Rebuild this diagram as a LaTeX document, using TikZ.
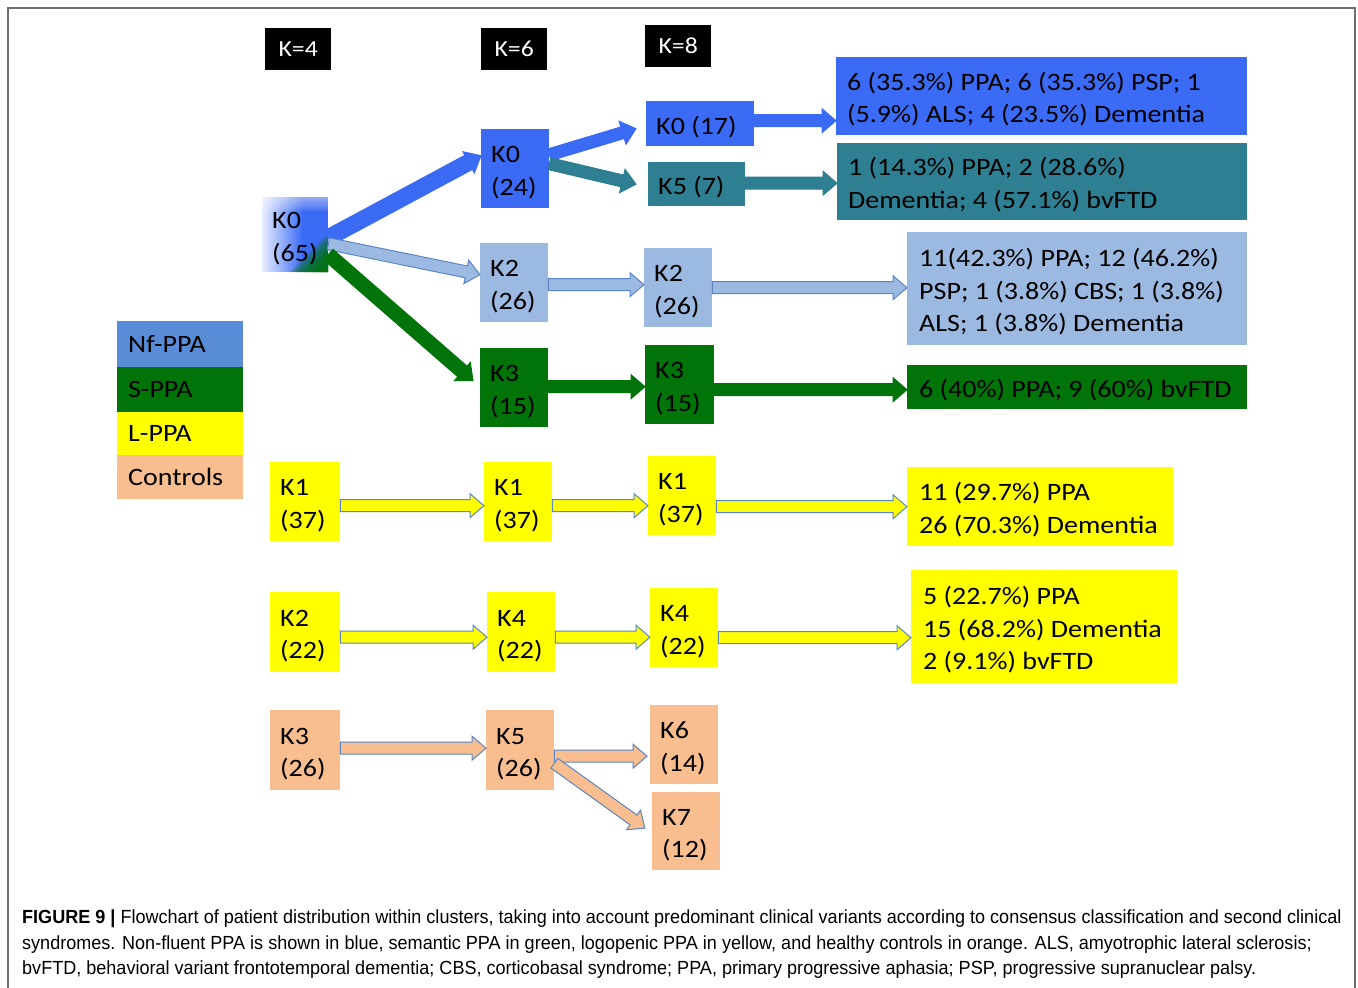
\documentclass[tikz,border=0pt]{standalone}
\usepackage{fontspec}
\setmainfont{Carlito}[FakeStretch=1.12]
\newfontfamily\capfont[FakeStretch=0.95]{Liberation Sans}
\usetikzlibrary{calc}
\definecolor{kblue}{RGB}{59,107,245}
\definecolor{kteal}{RGB}{47,127,146}
\definecolor{klblue}{RGB}{155,185,225}
\definecolor{kgreen}{RGB}{0,116,8}
\definecolor{kyellow}{RGB}{255,255,0}
\definecolor{kpeach}{RGB}{248,190,143}
\definecolor{legblue}{RGB}{88,140,214}
\definecolor{aline}{RGB}{90,134,197}
\definecolor{framegray}{RGB}{110,110,110}
\tikzset{
  box/.style={anchor=north west, inner xsep=10pt, inner ysep=0pt, align=flush left,
    font=\fontsize{25}{32.5}\selectfont,
    execute at begin node={\rule{0pt}{27pt}},
    execute at end node={\rule[-6pt]{0pt}{6pt}}},
  hdr/.style={anchor=north west, fill=black, text=white, inner sep=0pt,
    minimum width=66pt, minimum height=42pt, font=\fontsize{23}{28}\selectfont},
  legbox/.style={anchor=north west, inner xsep=11pt, inner ysep=0pt, align=flush left,
    minimum width=126pt, text width=104pt, font=\fontsize{25}{30}\selectfont}
}
\newcommand\blockarr[5]{%
  \path let \p1=#3, \p2=#4, \n1={atan2(\y2-\y1,\x2-\x1)}, \n2={veclen(\x2-\x1,\y2-\y1)} in
    \pgfextra{\xdef\baang{\n1}\xdef\balen{\n2}\xdef\bax{\x1}\xdef\bay{\y1}};
  \begin{scope}[shift={(\bax,\bay)}, rotate=\baang]
    \filldraw[fill=#1, draw=#2, line width=1pt, line join=miter]
      (0,-#5) -- ({\balen-14},-#5) -- ({\balen-14},-12) -- (\balen,0)
      -- ({\balen-14},12) -- ({\balen-14},#5) -- (0,#5) -- cycle;
  \end{scope}}
\begin{document}
\begin{tikzpicture}[x=1pt,y=-1pt]
\useasboundingbox (0,0) rectangle (1358,988);
\fill[white] (0,0) rectangle (1358,988);
\draw[framegray, line width=2pt] (8,988) -- (8,8) -- (1355,8) -- (1355,988);

% headers
\node[hdr] (h4) at (265,28) {K=4};
\node[hdr] (h6) at (481,28) {K=6};
\node[hdr] (h8) at (645,25) {K=8};

% column 1
\node[box, fill=kblue, minimum height=75pt, text width=46pt,
  path picture={
    \foreach \i in {0,...,20} {
      \pgfmathsetmacro\pc{12+88*\i/20}
      \fill[kblue!\pc!white] ($(path picture bounding box.north west)+(2*\i,0)$)
        rectangle ($(path picture bounding box.south west)+(2*\i+2.4,0)$);
    }
    \foreach \j in {1,...,7}
      \fill[white, opacity=0.08] (path picture bounding box.north west)
        rectangle ($(path picture bounding box.north east)+(0,2*\j)$);
    \foreach \j in {1,...,15}
      \fill[kgreen, opacity=0.2] (path picture bounding box.south east)
        -- ($(path picture bounding box.south east)+(-2.6*\j,0)$)
        -- ($(path picture bounding box.south east)+(0,-2.6*\j)$) -- cycle;
  }] (k65) at (262,197) {K0\\(65)};
\node[box, fill=kyellow, minimum height=79pt, text width=50pt] (k1a) at (270,462) {K1\\(37)};
\node[box, fill=kyellow, minimum height=80pt, text width=50pt] (k2a) at (270,592) {K2\\(22)};
\node[box, fill=kpeach, minimum height=80pt, text width=50pt] (k3a) at (270,710) {K3\\(26)};

% column 2
\node[box, fill=kblue, minimum height=79pt, text width=48pt] (k0b) at (481,129) {K0\\(24)};
\node[box, fill=klblue, minimum height=79pt, text width=48pt] (k2b) at (480,243) {K2\\(26)};
\node[box, fill=kgreen, minimum height=79pt, text width=48pt] (k3b) at (480,348) {K3\\(15)};
\node[box, fill=kyellow, minimum height=79pt, text width=48pt] (k1b) at (484,462) {K1\\(37)};
\node[box, fill=kyellow, minimum height=80pt, text width=48pt] (k4b) at (487,592) {K4\\(22)};
\node[box, fill=kpeach, minimum height=80pt, text width=48pt] (k5b) at (486,710) {K5\\(26)};

% column 3
\node[box, fill=kblue, minimum height=45pt, text width=88pt] (k0c) at (646,101) {K0 (17)};
\node[box, fill=kteal, minimum height=44pt, text width=77pt] (k5c) at (648,162) {K5 (7)};
\node[box, fill=klblue, minimum height=79pt, text width=48pt] (k2c) at (644,248) {K2\\(26)};
\node[box, fill=kgreen, minimum height=79pt, text width=49pt] (k3c) at (645,345) {K3\\(15)};
\node[box, fill=kyellow, minimum height=79pt, text width=48pt] (k1c) at (648,456) {K1\\(37)};
\node[box, fill=kyellow, minimum height=79pt, text width=48pt] (k4c) at (650,588) {K4\\(22)};
\node[box, fill=kpeach, minimum height=79pt, text width=48pt] (k6c) at (650,705) {K6\\(14)};
\node[box, fill=kpeach, minimum height=78pt, text width=48pt] (k7c) at (652,792) {K7\\(12)};

% results
\node[box, fill=kblue, minimum height=78pt, text width=389pt, inner xsep=11pt] (r0) at (836,57)
  {\mbox{6 (35.3\%) PPA; 6 (35.3\%) PSP; 1}\\\mbox{(5.9\%) ALS; 4 (23.5\%) Dementia}};
\node[box, fill=kteal, minimum height=77pt, text width=388pt, inner xsep=11pt] (r5) at (837,143)
  {\mbox{1 (14.3\%) PPA; 2 (28.6\%)}\\\mbox{Dementia; 4 (57.1\%) bvFTD}};
\node[box, fill=klblue, minimum height=113pt, text width=316pt, inner xsep=12pt] (r2) at (907,232)
  {\mbox{11(42.3\%) PPA; 12 (46.2\%)}\\\mbox{PSP; 1 (3.8\%) CBS; 1 (3.8\%)}\\\mbox{ALS; 1 (3.8\%) Dementia}};
\node[box, fill=kgreen, minimum height=44pt, text width=316pt, inner xsep=12pt] (r3) at (907,365)
  {\mbox{6 (40\%) PPA; 9 (60\%) bvFTD}};
\node[box, fill=kyellow, minimum height=79pt, text width=242pt, inner xsep=12pt] (r1) at (907,467)
  {\mbox{11 (29.7\%) PPA}\\\mbox{26 (70.3\%) Dementia}};
\node[box, fill=kyellow, minimum height=113pt, text width=242pt, inner xsep=12pt] (r4) at (911,570)
  {\mbox{5 (22.7\%) PPA}\\\mbox{15 (68.2\%) Dementia}\\\mbox{2 (9.1\%) bvFTD}};

% legend
\node[legbox, fill=legblue, minimum height=46pt] (l1) at (117,321) {Nf-PPA};
\node[legbox, fill=kgreen, minimum height=45pt] (l2) at (117,367) {S-PPA};
\node[legbox, fill=kyellow, minimum height=43pt] (l3) at (117,412) {L-PPA};
\node[legbox, fill=kpeach, minimum height=44pt] (l4) at (117,455) {Controls};

% arrow end points
\coordinate (a6s) at ($(k0c.east)+(0,-3)$);
\coordinate (a7s) at ($(k5c.east)+(0,-1)$);
\coordinate (a8s) at ($(k2b.east)+(0,2)$);
\coordinate (a9s) at ($(k2c.east)+(0,0)$);
\coordinate (a10s) at ($(k3b.east)+(0,-1)$);
\coordinate (a11s) at ($(k3c.east)+(0,5)$);
\coordinate (a12s) at ($(k1a.east)+(0,4)$);
\coordinate (a13s) at ($(k1b.east)+(0,4)$);
\coordinate (a14s) at ($(k1c.east)+(0,11)$);
\coordinate (a15s) at ($(k2a.east)+(0,5)$);
\coordinate (a16s) at ($(k4b.east)+(0,5)$);
\coordinate (a17s) at ($(k4c.east)+(0,10)$);
\coordinate (a18s) at ($(k3a.east)+(0,-2)$);
\coordinate (a19s) at ($(k5b.east)+(0,6)$);

% arrows
\blockarr{kblue}{kblue}{($(k65.east)+(0,3)$)}{($(k0b.west)+(0,-13)$)}{8}
\blockarr{klblue}{aline}{($(k65.east)+(0,9)$)}{($(k2b.west)+(0,-8)$)}{6}
\blockarr{kgreen}{kgreen}{($(k65.east)+(0,20)$)}{($(k3b.west)+(-7,-7)$)}{7}
\blockarr{kblue}{kblue}{($(k0b.east)+(0,-14)$)}{($(k0c.west)+(-10,5)$)}{6}
\blockarr{kteal}{kteal}{($(k0b.east)+(0,-5)$)}{($(k5c.west)+(-12,0)$)}{6}
\blockarr{kblue}{kblue}{(a6s)}{(r0.west |- a6s)}{6}
\blockarr{kteal}{kteal}{(a7s)}{(r5.west |- a7s)}{6}
\blockarr{klblue}{aline}{(a8s)}{(k2c.west |- a8s)}{6}
\blockarr{klblue}{aline}{(a9s)}{(r2.west |- a9s)}{6}
\blockarr{kgreen}{kgreen}{(a10s)}{(k3c.west |- a10s)}{6}
\blockarr{kgreen}{kgreen}{(a11s)}{(r3.west |- a11s)}{6}
\blockarr{kyellow}{aline}{(a12s)}{(k1b.west |- a12s)}{6}
\blockarr{kyellow}{aline}{(a13s)}{(k1c.west |- a13s)}{6}
\blockarr{kyellow}{aline}{(a14s)}{(r1.west |- a14s)}{6}
\blockarr{kyellow}{aline}{(a15s)}{(k4b.west |- a15s)}{6}
\blockarr{kyellow}{aline}{(a16s)}{(k4c.west |- a16s)}{6}
\blockarr{kyellow}{aline}{(a17s)}{(r4.west |- a17s)}{6}
\blockarr{kpeach}{aline}{(a18s)}{(k5b.west |- a18s)}{6}
\blockarr{kpeach}{aline}{(a19s)}{($(k6c.west |- a19s)+(-3,0)$)}{6}
\blockarr{kpeach}{aline}{($(k5b.east)+(0,13)$)}{($(k7c.west)+(-7,-3)$)}{6}

% caption
\node[anchor=north west, align=flush left, inner sep=0pt, font=\capfont\fontsize{19}{25.5}\selectfont] (cap) at (22,910)
  {{\bfseries FIGURE 9 \textbar} Flowchart of patient distribution within clusters, taking into account predominant clinical variants according to consensus classification and second clinical\\
  syndromes. Non-fluent PPA is shown in blue, semantic PPA in green, logopenic PPA in yellow, and healthy controls in orange. ALS, amyotrophic lateral sclerosis;\\
  bvFTD, behavioral variant frontotemporal dementia; CBS, corticobasal syndrome; PPA, primary progressive aphasia; PSP, progressive supranuclear palsy.};
\end{tikzpicture}
\end{document}
